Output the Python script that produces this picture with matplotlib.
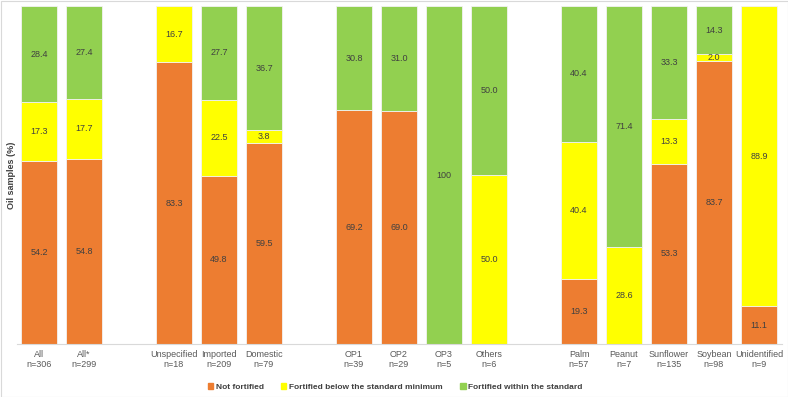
import matplotlib
matplotlib.use("Agg")
import matplotlib.pyplot as plt
from matplotlib.patches import Rectangle

plt.rcParams['font.family'] = ['Liberation Sans', 'DejaVu Sans']

# categories (None = empty gap slot)
categories = ["All", "All*", None, "Unspecified", "Imported", "Domestic", None,
              "OP1", "OP2", "OP3", "Others", None,
              "Palm", "Peanut", "Sunflower", "Soybean", "Unidentified"]
sample_n = [306, 299, None, 18, 209, 79, None, 39, 29, 5, 6, None,
            57, 7, 135, 98, 9]

not_fortified = [54.2, 54.8, None, 83.3, 49.8, 59.5, None, 69.2, 69.0, 0, 0, None,
                 19.3, 0, 53.3, 83.7, 11.1]
below_minimum = [17.3, 17.7, None, 16.7, 22.5, 3.8, None, 0, 0, 0, 50.0, None,
                 40.4, 28.6, 13.3, 2.0, 88.9]
within_standard = [28.4, 27.4, None, 0, 27.7, 36.7, None, 30.8, 31.0, 100, 50.0, None,
                   40.4, 71.4, 33.3, 14.3, 0]

series = [("Not fortified", not_fortified, "#ED7D31"),
          ("Fortified below the standard minimum", below_minimum, "#FFFF00"),
          ("Fortified within the standard", within_standard, "#92D050")]

W, H = 788, 397
fig = plt.figure(figsize=(W / 100, H / 100), dpi=100)
ax = fig.add_axes([16.5 / W, (H - 344) / H, 765 / W, 338 / H])

xs = [i for i, c in enumerate(categories) if c is not None]
bottoms = {i: 0.0 for i in xs}
for name, vals, col in series:
    for i in xs:
        v = vals[i]
        if v > 0:
            ax.bar(i, v, 0.8, bottom=bottoms[i], color=col,
                   edgecolor="#F2F2F2", linewidth=0.6)
            lab = "100" if v == 100 else f"{v:.1f}"
            ax.text(i, bottoms[i] + v / 2, lab, ha="center", va="center",
                    fontsize=6.5, color="#404040")
        bottoms[i] += v

ax.set_xlim(-0.5, len(categories) - 0.5)
ax.set_ylim(0, 100)
ax.set_xticks(xs)
ax.set_xticklabels([f"{categories[i]}\nn={sample_n[i]}" for i in xs],
                   fontsize=6.5, color="#595959", linespacing=1.15)
ax.tick_params(axis="x", length=0, pad=4)
ax.set_yticks([])
for s in ["top", "right", "left"]:
    ax.spines[s].set_visible(False)
ax.spines["bottom"].set_color("#D9D9D9")
ax.spines["bottom"].set_linewidth(0.8)

fig.text(12 / W, 1 - 175 / H, "Oil samples (%)", rotation=90, ha="center",
         va="center", fontsize=6.5, fontweight="bold", color="#404040")

# legend
handles = [Rectangle((0, 0), 1, 1, color=c) for _, _, c in series]
fig.legend(handles, [n for n, _, _ in series], loc="center",
           bbox_to_anchor=(395 / W, 1 - 387 / H), ncol=3, frameon=False,
           prop={"size": 6, "weight": "bold"}, labelcolor="#404040",
           handlelength=0.65, handleheight=0.65, handletextpad=0.3,
           columnspacing=2.1)

fig.patches.append(Rectangle((0.5 / W, 0.5 / H), 1 - 1 / W, 1 - 1 / H,
                             transform=fig.transFigure, fill=False,
                             edgecolor="#D9D9D9", linewidth=0.8))

fig.savefig("out.png", dpi=100)
